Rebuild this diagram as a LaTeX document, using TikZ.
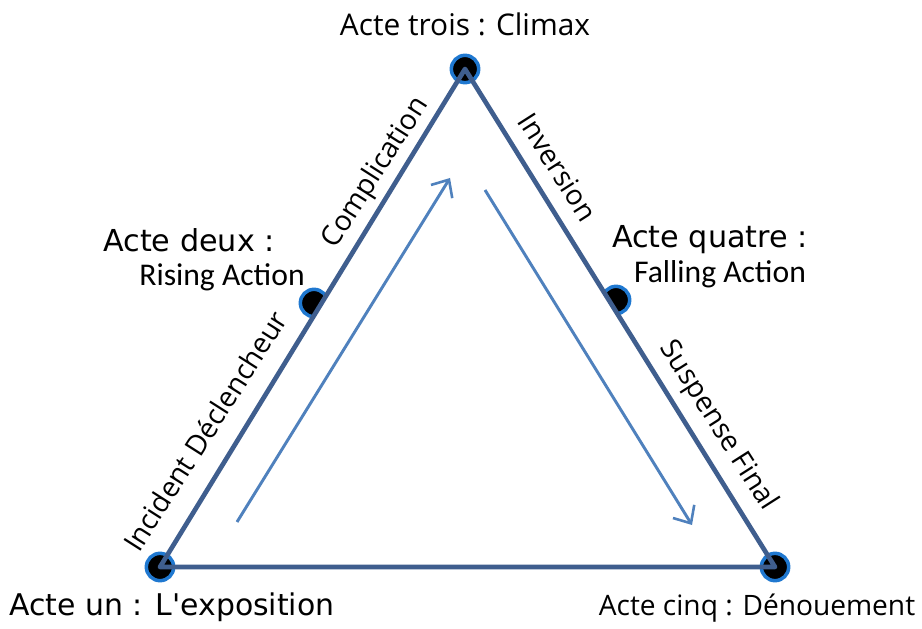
\documentclass[tikz,border=0pt]{standalone}
\usepackage{fontspec}
\setmainfont{Open Sans}
\newfontfamily\calfont{Carlito}
\newfontfamily\dvfont{DejaVu Sans}
\usetikzlibrary{arrows.meta, calc}

\definecolor{edgeblue}{HTML}{3F5E8E}
\definecolor{ringblue}{HTML}{1F78D0}
\definecolor{arrowblue}{HTML}{4F81BD}

\begin{document}
\begin{tikzpicture}[
            x = 0.03cm, y = -0.03cm, % pixel grid
            > = {Straight Barb[length=4.2mm, width=7.5mm, line width=2.2pt]}, % arrow head style
            font = \fontsize{24}{28}\selectfont
        ]

        \tikzstyle{dot}=[
            circle,
            draw = ringblue,
            line width = 3pt,
            fill = black,
            inner sep = 0pt,
            minimum size = 8.2mm
        ]
        \tikzstyle{side}=[
            draw = edgeblue,
            line width = 4pt,
            line join = round
        ]
        \tikzstyle{flow}=[
            draw = arrowblue,
            line width = 2.5pt,
            ->
        ]
        \tikzstyle{edgelabel}=[
            inner sep = 0pt
        ]

        \useasboundingbox (0,0) rectangle (922,629);

        \coordinate (top) at (465,69);
        \coordinate (un) at (160,567);
        \coordinate (cinq) at (775,567);

        % half dots on the sides
        \node[dot] (deux) at (314,303) {};
        \node[dot] (quatre) at (616,300) {};
        \fill[white] (un) -- (top) -- (cinq) -- cycle;

        % corner dots
        \node[dot] (trois) at (top) {};
        \node[dot] (debut) at (un) {};
        \node[dot] (fin) at (cinq) {};

        \path[side] (debut.center) -- (trois.center) -- (fin.center) -- cycle;

        % inner arrows
        \coordinate (a1) at (237,522);
        \coordinate (a2) at (450,178);
        \coordinate (b1) at (485,190);
        \coordinate (b2) at (692,525);
        \draw[flow] (a1) -- (a2);
        \draw[flow] (b1) -- (b2);

        % labels on the sides
        \node[edgelabel, rotate=57.5] (incident) at (205,431) {Incident Déclencheur};
        \node[edgelabel, rotate=57.5] (complication) at (376,173) {Complication};
        \node[edgelabel, rotate=-57.5] (inversion) at (558,167) {Inversion};
        \node[edgelabel, rotate=-57.5] (suspense) at (718,426) {Suspense Final};

        % acts
        \node[font=\fontsize{25.5}{30}\selectfont] (lbltrois) at (465,24) {Acte trois : Climax};
        \node[font=\dvfont\fontsize{25.8}{30}\selectfont] (lbldeux) at (189,240) {Acte deux :};
        \node[font=\calfont\fontsize{27}{31}\selectfont] (rising) at (222,277) {Rising Action};
        \node[font=\dvfont\fontsize{25.8}{30}\selectfont] (lblquatre) at (710,240) {Acte quatre :};
        \node[font=\calfont\fontsize{27}{31}\selectfont] (falling) at (720,274) {Falling Action};
        \node[font=\dvfont\fontsize{25.5}{30}\selectfont] (lblun) at (172,607) {Acte un : L\textquotesingle exposition};
        \node[font=\fontsize{24}{28}\selectfont] (lblcinq) at (757,608) {Acte cinq : Dénouement};

  \end{tikzpicture}
\end{document}
